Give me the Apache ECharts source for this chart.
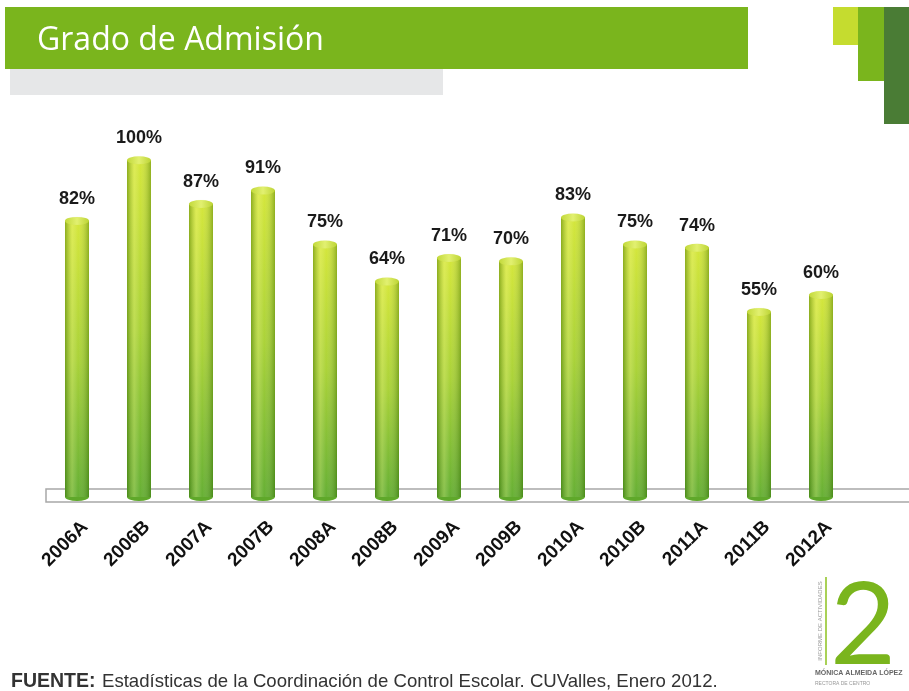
<!DOCTYPE html>
<html><head><meta charset="utf-8">
<script src="https://cdn.jsdelivr.net/npm/echarts@6/dist/echarts.min.js"></script>
<style>html,body{margin:0;padding:0;background:#fff}#c{width:909px;height:691px}</style>
</head><body><div id="c"></div>
<script>
const categories = ['2006A','2006B','2007A','2007B','2008A','2008B','2009A','2009B','2010A','2010B','2011A','2011B','2012A'];
const values = [82,100,87,91,75,64,71,70,83,75,74,55,60];
const titleText = 'Grado de Admisión';
const sourceBold = 'FUENTE:';
const sourceText = 'Estadísticas de la Coordinación de Control Escolar. CUValles, Enero 2012.';

const chart = echarts.init(document.getElementById('c'), null, {renderer:'canvas'});
const bodyGrad = new echarts.graphic.LinearGradient(0,0,0,1,[
  {offset:0,color:'#d2e531'},{offset:0.5,color:'#a6d02e'},{offset:1,color:'#5eab29'}]);
const shadeGrad = new echarts.graphic.LinearGradient(0,0,1,0,[
  {offset:0,color:'rgba(40,90,0,0.40)'},{offset:0.3,color:'rgba(255,255,180,0.28)'},
  {offset:0.55,color:'rgba(255,255,255,0.05)'},{offset:1,color:'rgba(40,90,0,0.38)'}]);
const capGrad = new echarts.graphic.LinearGradient(0,0,1,0,[
  {offset:0,color:'#c2d93a'},{offset:0.5,color:'#e2f070'},{offset:1,color:'#bcd434'}]);
const labelFont = 'Liberation Sans, Arial, sans-serif';

chart.setOption({
  animation:false,
  grid:[{left:46,right:57,top:160,bottom:194},{left:54,right:49,top:160,bottom:194}],
  xAxis:[{type:'category',data:categories,gridIndex:0,
    axisLine:{show:false},axisTick:{show:false},axisLabel:{show:false}},
    {type:'category',data:categories,gridIndex:1,
    axisLine:{show:false},axisTick:{show:false},
    axisLabel:{interval:0,rotate:45,margin:27,fontSize:19,fontWeight:'bold',
      fontFamily:labelFont,color:'#111'}}],
  yAxis:[{type:'value',min:0,max:100,show:false,gridIndex:0,splitLine:{show:false}},
    {type:'value',min:0,max:100,show:false,gridIndex:1,splitLine:{show:false}}],
  series:[
    {type:'bar',data:values,barWidth:24,z:3,itemStyle:{color:bodyGrad}},
    {type:'bar',data:values,barWidth:24,barGap:'-100%',z:4,itemStyle:{color:shadeGrad},
      label:{show:true,position:'top',distance:13,formatter:'{c}%',fontSize:18,fontWeight:'bold',
        fontFamily:labelFont,color:'#1a1a1a'}},
    {type:'pictorialBar',data:values,symbol:'circle',symbolSize:[24,8],symbolPosition:'end',
      symbolOffset:[0,'-50%'],z:5,itemStyle:{color:capGrad,borderColor:'#a9c52c',borderWidth:0.8}},
    {type:'pictorialBar',data:values,symbol:'circle',symbolSize:[24,8],symbolPosition:'start',
      symbolOffset:[0,'50%'],z:2,itemStyle:{color:'#5fa82a'}}
  ],
  graphic:[
    {type:'rect',z:0,shape:{x:5,y:7,width:743,height:62},style:{fill:'#7ab51d'}},
    {type:'rect',z:0,shape:{x:10,y:69,width:433,height:26},style:{fill:'#e6e7e8'}},
    {type:'text',z:1,x:37,y:41,style:{text:titleText,fill:'#fff',font:'32px "Open Sans", sans-serif',
      textVerticalAlign:'middle'}},
    {type:'rect',z:0,shape:{x:833,y:7,width:25,height:38},style:{fill:'#c5dc2f'}},
    {type:'rect',z:0,shape:{x:858,y:7,width:26,height:74},style:{fill:'#7ab51d'}},
    {type:'rect',z:0,shape:{x:884,y:7,width:25,height:117},style:{fill:'#4a7c35'}},
    {type:'rect',z:0,shape:{x:46,y:489,width:870,height:13},style:{fill:'#fff',stroke:'#a8a8a8',lineWidth:1.5}},
    {type:'text',z:1,x:11,y:682,style:{text:sourceBold,font:'bold 19.5px "Liberation Sans", Arial',fill:'#333',
      textVerticalAlign:'middle'}},
    {type:'text',z:1,x:102,y:682,style:{text:sourceText,font:'18.6px "Liberation Sans", Arial',fill:'#333',
      textVerticalAlign:'middle'}},
    {type:'line',z:1,shape:{x1:826,y1:577,x2:826,y2:665},style:{stroke:'#8dc21f',lineWidth:1.5}},
    {type:'text',z:1,x:820,y:621,rotation:Math.PI/2,style:{text:'INFORME DE ACTIVIDADES',fill:'#999',
      font:'6px "Liberation Sans", Arial',align:'center',verticalAlign:'middle'}},
    {type:'text',z:1,x:830,y:627,style:{text:'2',fill:'#7ab51d',font:'normal 114px Lato, "Open Sans", sans-serif',
      verticalAlign:'middle'}},
    {type:'text',z:1,x:815,y:673,style:{text:'MÓNICA ALMEIDA LÓPEZ',fill:'#666',
      font:'bold 7px "Liberation Sans", Arial',verticalAlign:'middle'}},
    {type:'text',z:1,x:815,y:684,style:{text:'RECTORA DE CENTRO',fill:'#999',
      font:'5px "Liberation Sans", Arial',verticalAlign:'middle'}}
  ]
});
</script></body></html>
